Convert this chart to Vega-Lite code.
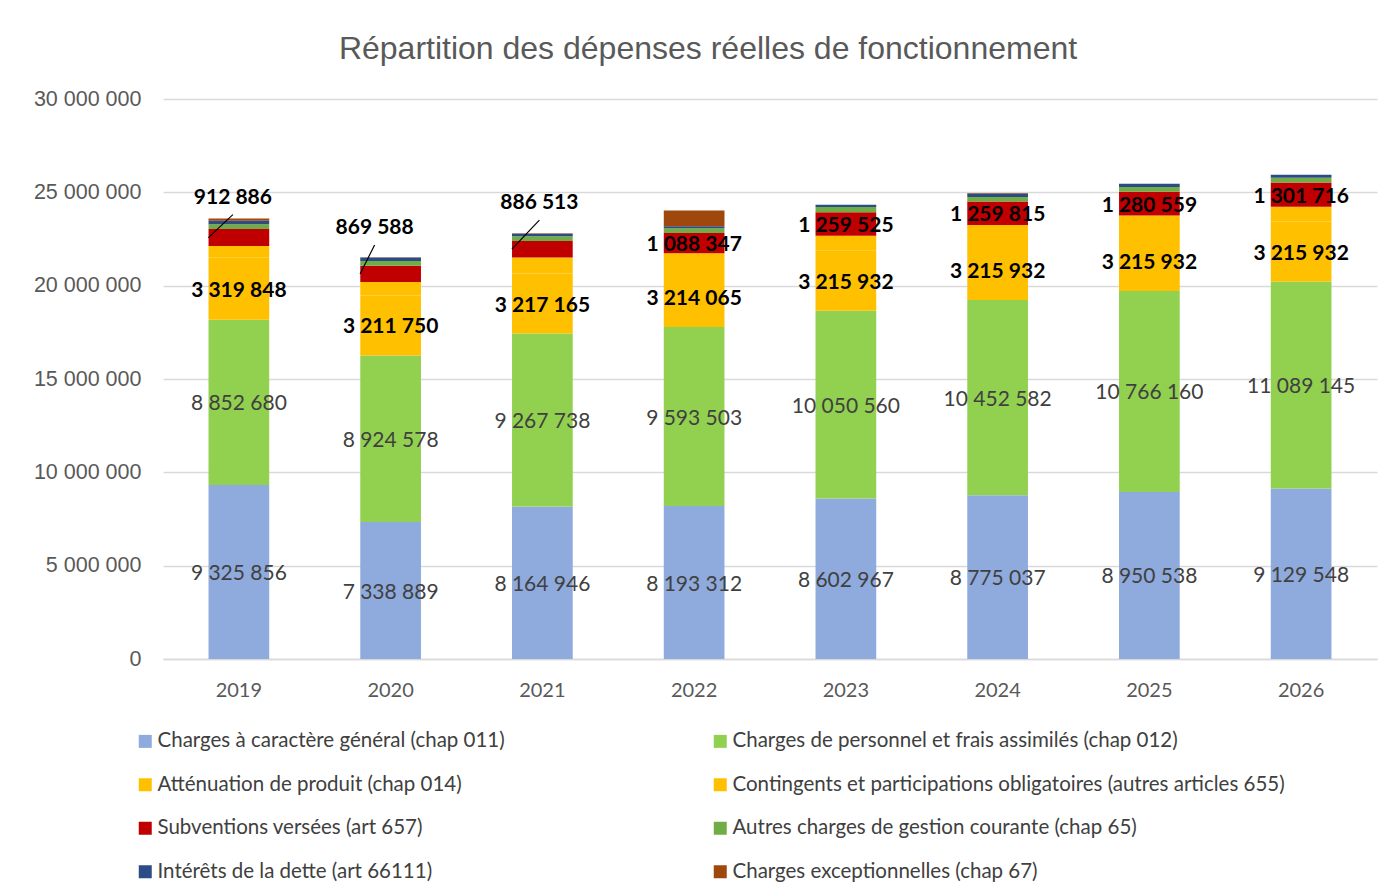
{
  "$schema": "https://vega.github.io/schema/vega-lite/v6.json",
  "width": 1214,
  "height": 560,
  "autosize": {"type": "none"},
  "padding": {"left": 163, "top": 99, "right": 19, "bottom": 235},
  "background": "white",
  "title": {
    "text": "Répartition des dépenses réelles de fonctionnement",
    "font": "Liberation Sans",
    "fontSize": 32,
    "fontWeight": "normal",
    "color": "#595959",
    "anchor": "middle",
    "dx": -62,
    "offset": 22
  },
  "config": {
    "locale": {"number": {"decimal": ",", "thousands": " ", "grouping": [3], "currency": ["", " €"]}},
    "view": {"stroke": null}
  },
  "data": {
    "values": [
      {"year": "2019", "cat": "Charges à caractère général  (chap 011)", "amount": 9325856},
      {"year": "2019", "cat": "Charges de personnel et frais assimilés  (chap 012)", "amount": 8852680},
      {"year": "2019", "cat": "Atténuation de produit (chap 014)", "amount": 3319848},
      {"year": "2019", "cat": "Contingents et participations obligatoires (autres articles 655)", "amount": 620000},
      {"year": "2019", "cat": "Subventions versées  (art 657)", "amount": 912886},
      {"year": "2019", "cat": "Autres charges de gestion courante (chap 65)", "amount": 260000},
      {"year": "2019", "cat": "Intérêts de la dette (art 66111)", "amount": 190000},
      {"year": "2019", "cat": "Charges exceptionnelles (chap 67)", "amount": 120000},

      {"year": "2020", "cat": "Charges à caractère général  (chap 011)", "amount": 7338889},
      {"year": "2020", "cat": "Charges de personnel et frais assimilés  (chap 012)", "amount": 8924578},
      {"year": "2020", "cat": "Atténuation de produit (chap 014)", "amount": 3211750},
      {"year": "2020", "cat": "Contingents et participations obligatoires (autres articles 655)", "amount": 720000},
      {"year": "2020", "cat": "Subventions versées  (art 657)", "amount": 869588},
      {"year": "2020", "cat": "Autres charges de gestion courante (chap 65)", "amount": 250000},
      {"year": "2020", "cat": "Intérêts de la dette (art 66111)", "amount": 200000},
      {"year": "2020", "cat": "Charges exceptionnelles (chap 67)", "amount": 10000},

      {"year": "2021", "cat": "Charges à caractère général  (chap 011)", "amount": 8164946},
      {"year": "2021", "cat": "Charges de personnel et frais assimilés  (chap 012)", "amount": 9267738},
      {"year": "2021", "cat": "Atténuation de produit (chap 014)", "amount": 3217165},
      {"year": "2021", "cat": "Contingents et participations obligatoires (autres articles 655)", "amount": 860000},
      {"year": "2021", "cat": "Subventions versées  (art 657)", "amount": 886513},
      {"year": "2021", "cat": "Autres charges de gestion courante (chap 65)", "amount": 250000},
      {"year": "2021", "cat": "Intérêts de la dette (art 66111)", "amount": 140000},
      {"year": "2021", "cat": "Charges exceptionnelles (chap 67)", "amount": 20000},

      {"year": "2022", "cat": "Charges à caractère général  (chap 011)", "amount": 8193312},
      {"year": "2022", "cat": "Charges de personnel et frais assimilés  (chap 012)", "amount": 9593503},
      {"year": "2022", "cat": "Atténuation de produit (chap 014)", "amount": 3214065},
      {"year": "2022", "cat": "Contingents et participations obligatoires (autres articles 655)", "amount": 730000},
      {"year": "2022", "cat": "Subventions versées  (art 657)", "amount": 1088347},
      {"year": "2022", "cat": "Autres charges de gestion courante (chap 65)", "amount": 250000},
      {"year": "2022", "cat": "Intérêts de la dette (art 66111)", "amount": 120000},
      {"year": "2022", "cat": "Charges exceptionnelles (chap 67)", "amount": 840000},

      {"year": "2023", "cat": "Charges à caractère général  (chap 011)", "amount": 8602967},
      {"year": "2023", "cat": "Charges de personnel et frais assimilés  (chap 012)", "amount": 10050560},
      {"year": "2023", "cat": "Atténuation de produit (chap 014)", "amount": 3215932},
      {"year": "2023", "cat": "Contingents et participations obligatoires (autres articles 655)", "amount": 800000},
      {"year": "2023", "cat": "Subventions versées  (art 657)", "amount": 1259525},
      {"year": "2023", "cat": "Autres charges de gestion courante (chap 65)", "amount": 280000},
      {"year": "2023", "cat": "Intérêts de la dette (art 66111)", "amount": 120000},
      {"year": "2023", "cat": "Charges exceptionnelles (chap 67)", "amount": 10000},

      {"year": "2024", "cat": "Charges à caractère général  (chap 011)", "amount": 8775037},
      {"year": "2024", "cat": "Charges de personnel et frais assimilés  (chap 012)", "amount": 10452582},
      {"year": "2024", "cat": "Atténuation de produit (chap 014)", "amount": 3215932},
      {"year": "2024", "cat": "Contingents et participations obligatoires (autres articles 655)", "amount": 800000},
      {"year": "2024", "cat": "Subventions versées  (art 657)", "amount": 1259815},
      {"year": "2024", "cat": "Autres charges de gestion courante (chap 65)", "amount": 250000},
      {"year": "2024", "cat": "Intérêts de la dette (art 66111)", "amount": 190000},
      {"year": "2024", "cat": "Charges exceptionnelles (chap 67)", "amount": 20000},

      {"year": "2025", "cat": "Charges à caractère général  (chap 011)", "amount": 8950538},
      {"year": "2025", "cat": "Charges de personnel et frais assimilés  (chap 012)", "amount": 10766160},
      {"year": "2025", "cat": "Atténuation de produit (chap 014)", "amount": 3215932},
      {"year": "2025", "cat": "Contingents et participations obligatoires (autres articles 655)", "amount": 820000},
      {"year": "2025", "cat": "Subventions versées  (art 657)", "amount": 1280559},
      {"year": "2025", "cat": "Autres charges de gestion courante (chap 65)", "amount": 250000},
      {"year": "2025", "cat": "Intérêts de la dette (art 66111)", "amount": 180000},
      {"year": "2025", "cat": "Charges exceptionnelles (chap 67)", "amount": 0},

      {"year": "2026", "cat": "Charges à caractère général  (chap 011)", "amount": 9129548},
      {"year": "2026", "cat": "Charges de personnel et frais assimilés  (chap 012)", "amount": 11089145},
      {"year": "2026", "cat": "Atténuation de produit (chap 014)", "amount": 3215932},
      {"year": "2026", "cat": "Contingents et participations obligatoires (autres articles 655)", "amount": 790000},
      {"year": "2026", "cat": "Subventions versées  (art 657)", "amount": 1301716},
      {"year": "2026", "cat": "Autres charges de gestion courante (chap 65)", "amount": 250000},
      {"year": "2026", "cat": "Intérêts de la dette (art 66111)", "amount": 160000},
      {"year": "2026", "cat": "Charges exceptionnelles (chap 67)", "amount": 0}
    ]
  },
  "transform": [
    {"stack": "amount", "groupby": ["year"], "as": ["v0", "v1"]}
  ],
  "encoding": {
    "x": {
      "field": "year",
      "type": "ordinal",
      "scale": {"paddingInner": 0.6, "paddingOuter": 0.3},
      "axis": {
        "title": null,
        "labelAngle": 0,
        "ticks": false,
        "domain": true,
        "domainColor": "#d9d9d9",
        "domainWidth": 1.3,
        "labelFont": "Lato",
        "labelFontSize": 20,
        "labelColor": "#595959",
        "labelPadding": 21
      }
    }
  },
  "layer": [
    {
      "mark": {"type": "bar"},
      "encoding": {
        "y": {
          "field": "v1",
          "type": "quantitative",
          "scale": {"domain": [0, 30000000]},
          "axis": {
            "title": null,
            "values": [0, 5000000, 10000000, 15000000, 20000000, 25000000, 30000000],
            "format": ",d",
            "domain": false,
            "ticks": false,
            "grid": true,
            "gridColor": "#d9d9d9",
            "gridWidth": 1.3,
            "labelFont": "Liberation Sans",
            "labelFontSize": 21.5,
            "labelColor": "#595959",
            "labelPadding": 22
          }
        },
        "y2": {"field": "v0"},
        "color": {
          "field": "cat",
          "type": "nominal",
          "scale": {
            "domain": [
              "Charges à caractère général  (chap 011)",
              "Charges de personnel et frais assimilés  (chap 012)",
              "Atténuation de produit (chap 014)",
              "Contingents et participations obligatoires (autres articles 655)",
              "Subventions versées  (art 657)",
              "Autres charges de gestion courante (chap 65)",
              "Intérêts de la dette (art 66111)",
              "Charges exceptionnelles (chap 67)"
            ],
            "range": ["#8faadc", "#92d050", "#ffc000", "#ffc000", "#c00000", "#70ad47", "#2b4c85", "#9e480e"]
          },
          "legend": {
            "title": null,
            "orient": "none",
            "legendX": -28,
            "legendY": 632,
            "direction": "horizontal",
            "columns": 2,
            "symbolType": "square",
            "symbolSize": 169,
            "symbolStrokeWidth": 0,
            "labelFont": "Lato",
            "labelFontSize": 20.5,
            "labelColor": "#404040",
            "labelLimit": 800,
            "labelOffset": 2,
            "rowPadding": 22.5,
            "columnPadding": 200
          }
        }
      }
    },
    {
      "transform": [
        {"fold": ["v0", "v1"], "as": ["k", "pos"]},
        {"aggregate": [{"op": "mean", "field": "pos", "as": "mid"}], "groupby": ["year", "cat", "amount"]},
        {"filter": {"field": "cat", "oneOf": ["Charges à caractère général  (chap 011)", "Charges de personnel et frais assimilés  (chap 012)"]}}
      ],
      "mark": {"type": "text", "font": "Lato", "fontSize": 21, "color": "#404040", "dy": 2},
      "encoding": {
        "y": {"field": "mid", "type": "quantitative", "title": null},
        "text": {"field": "amount", "type": "quantitative", "format": ",d"}
      }
    },
    {
      "transform": [
        {"fold": ["v0", "v1"], "as": ["k", "pos"]},
        {"aggregate": [{"op": "mean", "field": "pos", "as": "mid"}], "groupby": ["year", "cat", "amount"]},
        {"filter": {"or": [
          {"field": "cat", "equal": "Atténuation de produit (chap 014)"},
          {"and": [
            {"field": "cat", "equal": "Subventions versées  (art 657)"},
            {"not": {"field": "year", "oneOf": ["2019", "2020", "2021"]}}
          ]}
        ]}}
      ],
      "mark": {"type": "text", "font": "Lato", "fontSize": 21, "fontWeight": "bold", "color": "#000000", "dy": 2},
      "encoding": {
        "y": {"field": "mid", "type": "quantitative", "title": null},
        "text": {"field": "amount", "type": "quantitative", "format": ",d"}
      }
    },
    {
      "transform": [
        {"fold": ["v0", "v1"], "as": ["k", "pos"]},
        {"aggregate": [{"op": "mean", "field": "pos", "as": "mid"}], "groupby": ["year", "cat", "amount"]},
        {"filter": {"and": [{"field": "cat", "equal": "Subventions versées  (art 657)"}, {"field": "year", "equal": "2019"}]}}
      ],
      "layer": [
        {
          "mark": {"type": "rule", "color": "#000000", "strokeWidth": 1.2, "xOffset": -30.5, "x2Offset": -6, "y2Offset": -23},
          "encoding": {
            "y": {"field": "mid", "type": "quantitative", "title": null},
            "y2": {"field": "mid"},
            "x2": {"field": "year", "bandPosition": 0.5}
          }
        },
        {
          "mark": {"type": "text", "font": "Lato", "fontSize": 21, "fontWeight": "bold", "color": "#000000", "dx": -6, "dy": -40},
          "encoding": {
            "y": {"field": "mid", "type": "quantitative", "title": null},
            "text": {"field": "amount", "type": "quantitative", "format": ",d"}
          }
        }
      ]
    },
    {
      "transform": [
        {"fold": ["v0", "v1"], "as": ["k", "pos"]},
        {"aggregate": [{"op": "mean", "field": "pos", "as": "mid"}], "groupby": ["year", "cat", "amount"]},
        {"filter": {"and": [{"field": "cat", "equal": "Subventions versées  (art 657)"}, {"field": "year", "equal": "2020"}]}}
      ],
      "layer": [
        {
          "mark": {"type": "rule", "color": "#000000", "strokeWidth": 1.2, "xOffset": -30.5, "x2Offset": -16, "y2Offset": -29},
          "encoding": {
            "y": {"field": "mid", "type": "quantitative", "title": null},
            "y2": {"field": "mid"},
            "x2": {"field": "year", "bandPosition": 0.5}
          }
        },
        {
          "mark": {"type": "text", "font": "Lato", "fontSize": 21, "fontWeight": "bold", "color": "#000000", "dx": -16, "dy": -46},
          "encoding": {
            "y": {"field": "mid", "type": "quantitative", "title": null},
            "text": {"field": "amount", "type": "quantitative", "format": ",d"}
          }
        }
      ]
    },
    {
      "transform": [
        {"fold": ["v0", "v1"], "as": ["k", "pos"]},
        {"aggregate": [{"op": "mean", "field": "pos", "as": "mid"}], "groupby": ["year", "cat", "amount"]},
        {"filter": {"and": [{"field": "cat", "equal": "Subventions versées  (art 657)"}, {"field": "year", "equal": "2021"}]}}
      ],
      "layer": [
        {
          "mark": {"type": "rule", "color": "#000000", "strokeWidth": 1.2, "xOffset": -30.5, "x2Offset": -3, "y2Offset": -29},
          "encoding": {
            "y": {"field": "mid", "type": "quantitative", "title": null},
            "y2": {"field": "mid"},
            "x2": {"field": "year", "bandPosition": 0.5}
          }
        },
        {
          "mark": {"type": "text", "font": "Lato", "fontSize": 21, "fontWeight": "bold", "color": "#000000", "dx": -3, "dy": -46},
          "encoding": {
            "y": {"field": "mid", "type": "quantitative", "title": null},
            "text": {"field": "amount", "type": "quantitative", "format": ",d"}
          }
        }
      ]
    }
  ]
}
